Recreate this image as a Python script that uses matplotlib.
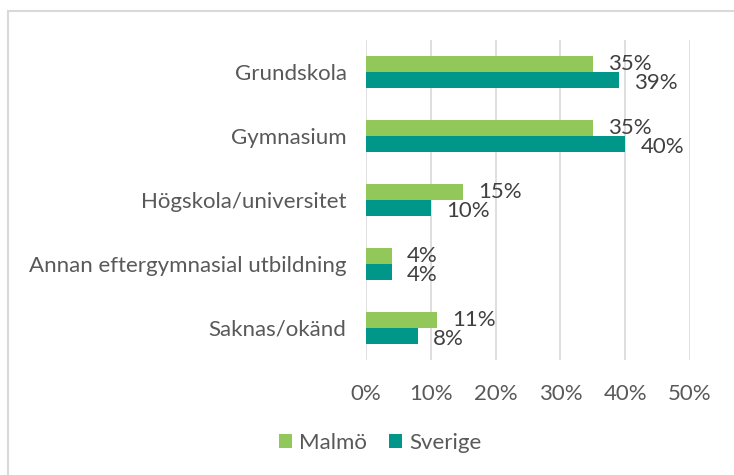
import matplotlib
matplotlib.use("Agg")
import matplotlib.pyplot as plt
from matplotlib.lines import Line2D
import numpy as np

categories = ["Grundskola", "Gymnasium", "Högskola/universitet",
              "Annan eftergymnasial utbildning", "Saknas/okänd"]
malmo = [35, 35, 15, 4, 11]
sverige = [39, 40, 10, 4, 8]
series_names = ["Malmö", "Sverige"]
ticks = [0, 10, 20, 30, 40, 50]

GREEN = "#92c75a"
TEAL = "#00968a"
TEXT = "#595959"

plt.rcParams["font.family"] = ["Lato", "DejaVu Sans"]

fig = plt.figure(figsize=(7.34, 4.75), dpi=100)
ax = fig.add_axes([366 / 734, 1 - 360 / 475, 324 / 734, 320 / 475])

y = np.arange(len(categories))
h = 0.25
b1 = ax.barh(y - h / 2, malmo, height=h, color=GREEN, label=series_names[0], zorder=3)
b2 = ax.barh(y + h / 2, sverige, height=h, color=TEAL, label=series_names[1], zorder=3)

for bars, vals, dy in ((b1, malmo, 0.0), (b2, sverige, 0.04)):
    for bar, v in zip(bars, vals):
        ax.annotate(f"{v}%", (v, bar.get_y() + bar.get_height() / 2 + dy),
                    xytext=(11, 0), textcoords="offset points",
                    ha="left", va="center", fontsize=16, color="#404040")

ax.set_ylim(len(categories) - 0.5, -0.5)
ax.set_xlim(0, 50)
ax.set_xticks(ticks)
ax.set_xticklabels([f"{t}%" for t in ticks])
ax.set_yticks(y)
ax.set_yticklabels(categories)
ax.tick_params(axis="both", length=0, labelsize=16, colors=TEXT)
ax.tick_params(axis="x", pad=17)
ax.tick_params(axis="y", pad=14)
ax.grid(axis="x", color="#d9d9d9", linewidth=1.2, zorder=0)
for s in ax.spines.values():
    s.set_visible(False)

fig.legend(handles=[b1, b2], loc="center", bbox_to_anchor=(380 / 734, 1 - 443 / 475),
           ncol=2, frameon=False, fontsize=16, labelcolor=TEXT,
           handlelength=0.6, handleheight=0.6, handletextpad=0.3, columnspacing=1.0)

# chart frame: only top and left edges are visible in the crop
fig.add_artist(Line2D([8 / 734, 8 / 734], [0, 1 - 11 / 475], transform=fig.transFigure,
                      color="#d9d9d9", linewidth=1.5))
fig.add_artist(Line2D([8 / 734, 1], [1 - 11 / 475, 1 - 11 / 475], transform=fig.transFigure,
                      color="#d9d9d9", linewidth=1.5))

fig.savefig("out.png", dpi=100)
